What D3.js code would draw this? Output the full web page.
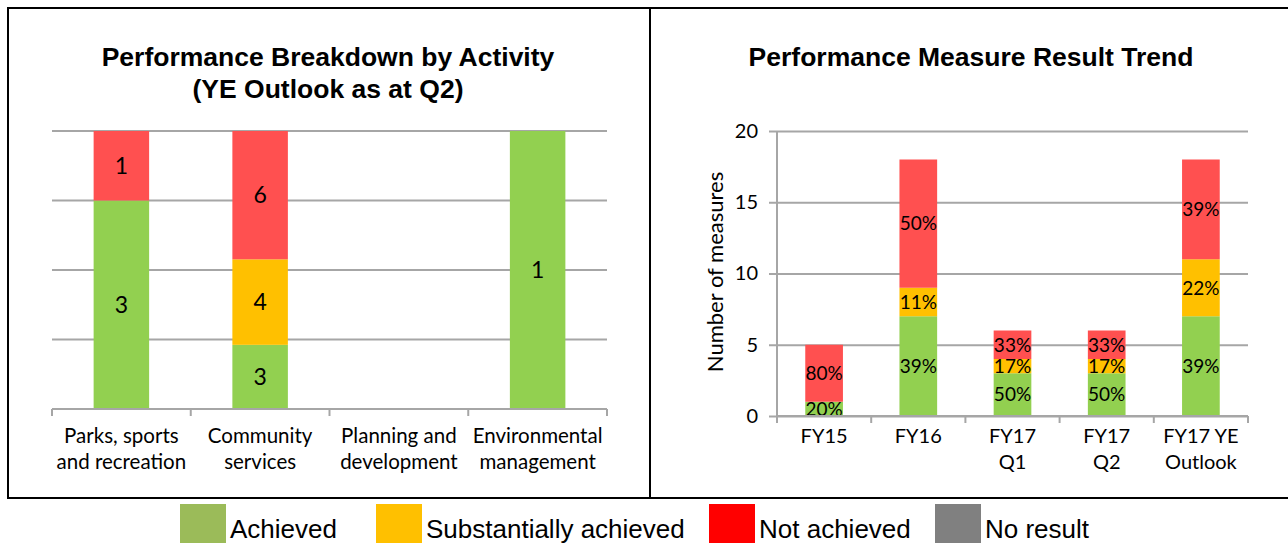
<!DOCTYPE html>
<html lang="en">
<head>
<meta charset="UTF-8">
<title>Performance charts</title>
<script src="https://d3js.org/d3.v7.min.js"></script>
<style>
  body { margin: 0; background: #fff; }
  .title { font-family: "Liberation Sans", Arial, sans-serif; font-weight: bold; font-size: 26.5px; }
  .cal { font-family: Lato, "Open Sans", sans-serif; }
  .legend text { font-family: "Liberation Sans", Arial, sans-serif; font-size: 26px; }
</style>
</head>
<body>
<svg id="chart" width="1288" height="543"></svg>
<script>
// left chart: YE outlook by activity (counts, drawn as 100% stack)
const leftCats = [["Parks, sports", "and recreation"], ["Community", "services"], ["Planning and", "development"], ["Environmental", "management"]];
const leftAchieved = [3, 3, 0, 1];
const leftSubst = [0, 4, 0, 0];
const leftNot = [1, 6, 0, 0];

// right chart: trend of results
const rightCats = [["FY15"], ["FY16"], ["FY17", "Q1"], ["FY17", "Q2"], ["FY17 YE", "Outlook"]];
const rightAchieved = [1, 7, 3, 3, 7];
const rightSubst = [0, 2, 1, 1, 4];
const rightNot = [4, 9, 2, 2, 7];
const rightTicks = [0, 5, 10, 15, 20];

const legendItems = ["Achieved", "Substantially achieved", "Not achieved", "No result"];
const legendColors = ["#9bbb59", "#ffc000", "#ff0000", "#808080"];

const keys = ["achieved", "subst", "not"];
const barColor = {achieved: "#92d050", subst: "#ffc000", not: "#ff5050"};
const gridColor = "#a6a6a6";

const svg = d3.select("#chart");

// panel frames
svg.append("rect").attr("x", 8).attr("y", 8).attr("width", 642).attr("height", 490)
  .attr("fill", "none").attr("stroke", "#000").attr("stroke-width", 2);
svg.append("rect").attr("x", 650).attr("y", 8).attr("width", 645).attr("height", 490)
  .attr("fill", "none").attr("stroke", "#000").attr("stroke-width", 2);

function rows(cats, a, s, n) {
  return cats.map((c, i) => ({cat: i, achieved: a[i], subst: s[i], not: n[i]}));
}

// ---------- left chart
const leftData = rows(leftCats, leftAchieved, leftSubst, leftNot);
const lx = d3.scaleBand().domain(d3.range(leftCats.length)).range([52, 607]).paddingInner(0.6).paddingOuter(0.3);
const ly = d3.scaleLinear().domain([0, 1]).range([409, 131]);
const leftStack = d3.stack().keys(keys).offset(d3.stackOffsetExpand)(leftData);

const lg = svg.append("g");
lg.append("g").selectAll("line").data([0.25, 0.5, 0.75, 1]).join("line")
  .attr("x1", 52).attr("x2", 607).attr("y1", d => ly(d)).attr("y2", d => ly(d))
  .attr("stroke", gridColor).attr("stroke-width", 2);

leftStack.forEach(s => {
  lg.append("g").selectAll("rect").data(s).join("rect")
    .attr("x", (d, i) => lx(i))
    .attr("width", lx.bandwidth())
    .attr("y", d => ly(d[1]))
    .attr("height", d => ly(d[0]) - ly(d[1]))
    .attr("fill", barColor[s.key]);
  lg.append("g").selectAll("text").data(s.filter(d => d.data[s.key] > 0)).join("text")
    .attr("class", "cal")
    .attr("x", d => lx(d.data.cat) + lx.bandwidth() / 2)
    .attr("y", d => (ly(d[0]) + ly(d[1])) / 2)
    .attr("dy", "0.36em")
    .attr("text-anchor", "middle")
    .attr("font-size", 23)
    .text(d => d.data[s.key]);
});

// bottom axis with category separators
const lstep = (607 - 52) / leftCats.length;
lg.append("line").attr("x1", 52).attr("x2", 607).attr("y1", 409).attr("y2", 409)
  .attr("stroke", gridColor).attr("stroke-width", 2);
lg.append("g").selectAll("line").data(d3.range(leftCats.length + 1)).join("line")
  .attr("x1", d => 52 + d * lstep).attr("x2", d => 52 + d * lstep)
  .attr("y1", 409).attr("y2", 416).attr("stroke", gridColor).attr("stroke-width", 2);
leftCats.forEach((c, i) => {
  const t = lg.append("text").attr("class", "cal").attr("font-size", 20.5)
    .attr("text-anchor", "middle").attr("fill", "#000");
  c.forEach((line, j) => {
    t.append("tspan").attr("x", lx(i) + lx.bandwidth() / 2).attr("y", 443 + j * 26).text(line);
  });
});

svg.append("text").attr("class", "title").attr("text-anchor", "middle")
  .attr("x", 328).attr("y", 66).text("Performance Breakdown by Activity");
svg.append("text").attr("class", "title").attr("text-anchor", "middle")
  .attr("x", 328).attr("y", 98).text("(YE Outlook as at Q2)");

// ---------- right chart
const rightData = rows(rightCats, rightAchieved, rightSubst, rightNot);
const rx = d3.scaleBand().domain(d3.range(rightCats.length)).range([777, 1248]).paddingInner(0.6).paddingOuter(0.3);
const ry = d3.scaleLinear().domain([0, 20]).range([416, 131]);
const rightStack = d3.stack().keys(keys)(rightData);

const rg = svg.append("g");
rg.append("g").attr("transform", "translate(777,0)")
  .call(d3.axisLeft(ry).tickValues(rightTicks).tickSize(-471).tickSizeOuter(0).tickPadding(19))
  .call(g => g.select(".domain").remove())
  .call(g => g.selectAll(".tick line").attr("stroke", gridColor).attr("stroke-width", 2).attr("x1", -8))
  .call(g => g.selectAll(".tick text").attr("class", "cal").attr("font-size", 20).attr("fill", "#000"));

rightStack.forEach(s => {
  rg.append("g").selectAll("rect").data(s).join("rect")
    .attr("x", (d, i) => rx(i))
    .attr("width", rx.bandwidth())
    .attr("y", d => ry(d[1]))
    .attr("height", d => ry(d[0]) - ry(d[1]))
    .attr("fill", barColor[s.key]);
});
rightStack.forEach(s => {
  rg.append("g").selectAll("text").data(s.filter(d => d.data[s.key] > 0)).join("text")
    .attr("class", "cal")
    .attr("x", d => rx(d.data.cat) + rx.bandwidth() / 2)
    .attr("y", d => (ry(d[0]) + ry(d[1])) / 2)
    .attr("dy", "0.36em")
    .attr("text-anchor", "middle")
    .attr("font-size", 19)
    .text(d => {
      const tot = d.data.achieved + d.data.subst + d.data.not;
      return Math.round(d.data[s.key] / tot * 100) + "%";
    });
});

// axis lines
rg.append("line").attr("x1", 777).attr("x2", 777).attr("y1", 131).attr("y2", 416)
  .attr("stroke", gridColor).attr("stroke-width", 2);
const rstep = (1248 - 777) / rightCats.length;
rg.append("line").attr("x1", 777).attr("x2", 1248).attr("y1", 416).attr("y2", 416)
  .attr("stroke", gridColor).attr("stroke-width", 2);
rg.append("g").selectAll("line").data(d3.range(rightCats.length + 1)).join("line")
  .attr("x1", d => 777 + d * rstep).attr("x2", d => 777 + d * rstep)
  .attr("y1", 416).attr("y2", 423).attr("stroke", gridColor).attr("stroke-width", 2);
rightCats.forEach((c, i) => {
  const t = rg.append("text").attr("class", "cal").attr("font-size", 20)
    .attr("text-anchor", "middle").attr("fill", "#000");
  c.forEach((line, j) => {
    t.append("tspan").attr("x", rx(i) + rx.bandwidth() / 2).attr("y", 443 + j * 26).text(line);
  });
});

svg.append("text").attr("class", "cal").attr("font-size", 22).attr("text-anchor", "middle")
  .attr("transform", "translate(723,272) rotate(-90)").text("Number of measures");

svg.append("text").attr("class", "title").attr("text-anchor", "middle")
  .attr("x", 971).attr("y", 66).text("Performance Measure Result Trend");

// ---------- legend
const legendX = [180, 376, 709, 935];
const legend = svg.append("g").attr("class", "legend");
legendItems.forEach((name, i) => {
  legend.append("rect").attr("x", legendX[i]).attr("y", 504).attr("width", 46).attr("height", 42)
    .attr("fill", legendColors[i]);
  legend.append("text").attr("x", legendX[i] + 50).attr("y", 538).text(name);
});
</script>
</body>
</html>
